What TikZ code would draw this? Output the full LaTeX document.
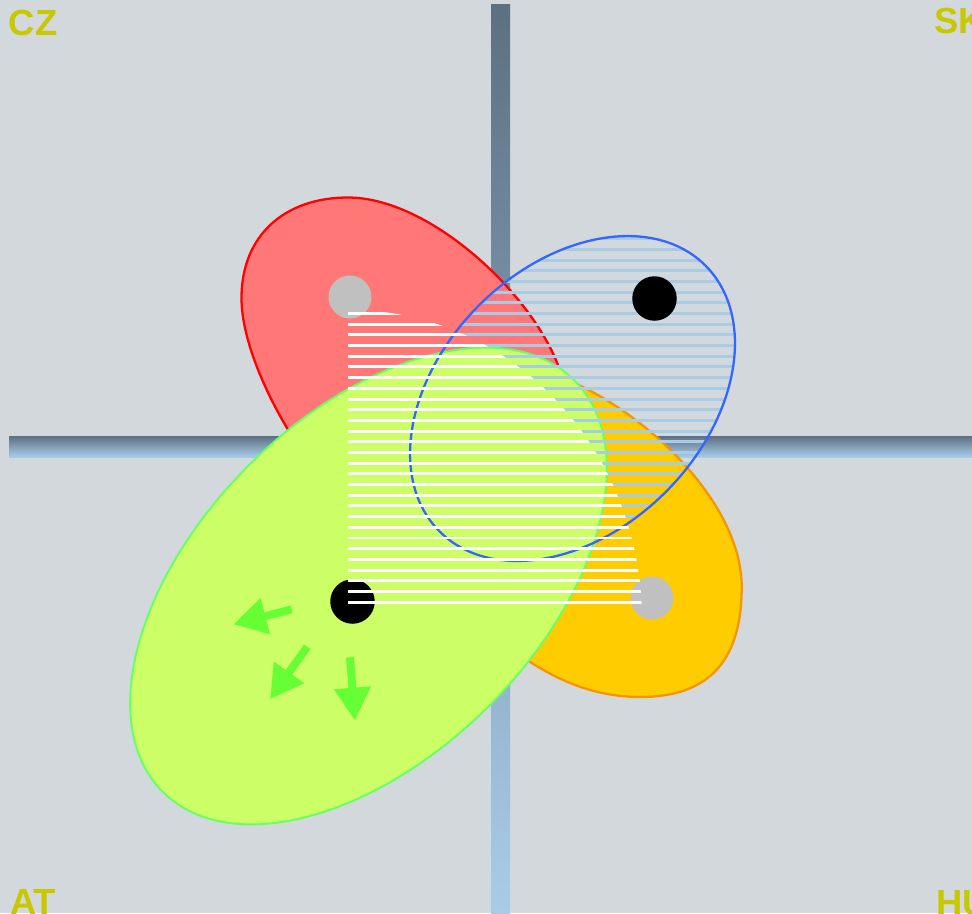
\documentclass[tikz,border=0pt]{standalone}
\usepackage{fontspec}
\setmainfont{Liberation Sans}
\usetikzlibrary{arrows.meta, positioning}

\definecolor{bgcol}{RGB}{211,216,220}
\definecolor{labelcol}{RGB}{200,200,0}
\definecolor{bardark}{RGB}{93,112,130}
\definecolor{barlight}{RGB}{168,204,232}
\definecolor{redfill}{RGB}{255,119,119}
\definecolor{orangefill}{RGB}{255,204,0}
\definecolor{orangeline}{RGB}{245,150,0}
\definecolor{greenfill}{RGB}{204,255,102}
\definecolor{greenline}{RGB}{102,255,102}
\definecolor{arrowgreen}{RGB}{102,255,51}
\definecolor{blueline}{RGB}{51,102,255}
\definecolor{hatchcol}{RGB}{166,204,232}
\definecolor{dotgray}{RGB}{192,192,192}

\begin{document}
\begin{tikzpicture}[
      x=0.02cm, y=-0.02cm,
      country/.style={anchor=base west, inner sep=0pt, text=labelcol, font=\fontsize{20.7}{24}\selectfont\bfseries},
      dot/.style={circle, inner sep=0pt, minimum size=0.86cm},
      blob/.style={line width=1.3pt, line join=round},
      hatchline/.style={line width=1.7pt},
      push/.style={-{Triangle[length=18.8pt, width=19.9pt]}, line width=4.5pt, draw=arrowgreen}
    ]
    \useasboundingbox (0,0) rectangle (972,913);
    \clip (0,0) rectangle (972,913);
    \fill[bgcol] (0,0) rectangle (972,913);

    % border bars
    \shade[top color=bardark, bottom color=barlight] (491,4) rectangle (510,913);
    \shade[top color=bardark, bottom color=barlight] (9,436) rectangle (972,457);

    % country blobs
    \draw[blob, draw=orangeline, fill=orangefill]
      (560,377) .. controls (640,407) and (741.7,500) .. (741.7,587)
      .. controls (741.7,665) and (705,697) .. (640,697)
      .. controls (595,697) and (555,680) .. (520,655)
      .. controls (471,620) and (432,570) .. (432,500)
      .. controls (432,420) and (500,355) .. cycle;
    \draw[blob, draw=red, fill=redfill]
      (241.5,298) .. controls (241.5,235) and (285,197.5) .. (348,197.5)
      .. controls (428,197.5) and (529,290) .. (558,365)
      .. controls (573.5,405) and (570,470) .. (520,470)
      .. controls (460,470) and (307.6,462.3) .. (287,428)
      .. controls (266.4,393.7) and (241.5,340) .. cycle;
    \draw[blob, line width=1.1pt, draw=greenline, fill=greenfill, rotate around={45:(368.5,586)}]
      (368.5,586) ellipse [x radius=291, y radius=170];

    % arrows in AT
    \coordinate (a1s) at (291.7,609.3);
    \coordinate (a1e) at (233.3,624.3);
    \coordinate (a2s) at (307.3,646.7);
    \coordinate (a2e) at (270,699.3);
    \coordinate (a3s) at (350,657.3);
    \coordinate (a3e) at (355,720.7);
    \draw[push] (a1s) -- (a1e);
    \draw[push] (a2s) -- (a2e);
    \draw[push] (a3s) -- (a3e);

    % hatched SK
    \begin{scope}
      \clip[rotate around={45:(572.5,398.5)}] (572.5,398.5) ellipse [x radius=188, y radius=132];
      \foreach \k in {-7,...,23}
        \draw[hatchline, hatchcol] (390,{313.5+10.69*\k}) -- (760,{313.5+10.69*\k});
    \end{scope}
    \draw[blob, draw=blueline, rotate around={45:(572.5,398.5)}]
      (572.5,398.5) ellipse [x radius=188, y radius=132];

    % capitals
    \node[dot, fill=dotgray] (cz) at (350,297) {};
    \node[dot, fill=dotgray] (hu) at (652,598) {};
    \node[dot, fill=black, minimum size=0.89cm] (sk) at (654.5,298.5) {};
    \node[dot, fill=black, minimum size=0.89cm] (at) at (352.5,601.5) {};

    % white hatch
    \begin{scope}
      \clip (350,620) ellipse [x radius=292, y radius=310];
      \foreach \k in {0,...,27}
        \draw[hatchline, white] (348,{313.5+10.69*\k}) -- (700,{313.5+10.69*\k});
    \end{scope}

    % corner labels
    \node[country] (lblcz) at (8.5,35) {CZ};
    \node[country] (lblsk) at (934,33) {SK};
    \node[country] (lblat) at (10,914) {AT};
    \node[country] (lblhu) at (936,915) {HU};
  \end{tikzpicture}
\end{document}
